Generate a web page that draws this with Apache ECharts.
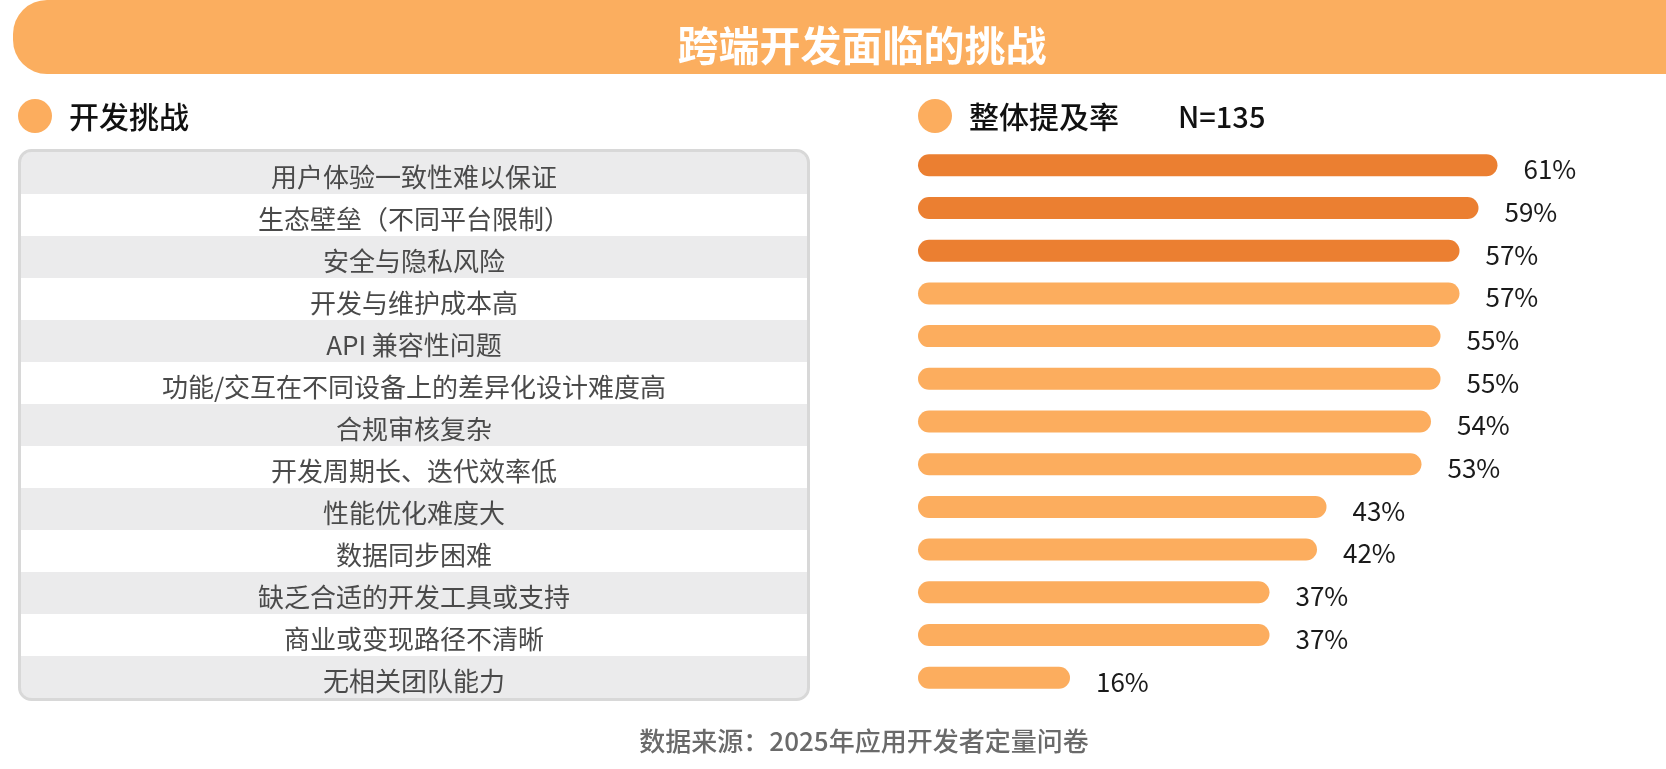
<!DOCTYPE html>
<html>
<head>
<meta charset="utf-8">
<title>跨端开发面临的挑战</title>
<script src="https://cdn.jsdelivr.net/npm/echarts@6/dist/echarts.min.js"></script>
<style>
  html, body { margin: 0; padding: 0; background: #fff; }
  #main { width: 1666px; height: 769px; }
</style>
</head>
<body>
<div id="main"></div>
<script>
const challenges = [
    '用户体验一致性难以保证',
    '生态壁垒（不同平台限制）',
    '安全与隐私风险',
    '开发与维护成本高',
    'API 兼容性问题',
    '功能/交互在不同设备上的差异化设计难度高',
    '合规审核复杂',
    '开发周期长、迭代效率低',
    '性能优化难度大',
    '数据同步困难',
    '缺乏合适的开发工具或支持',
    '商业或变现路径不清晰',
    '无相关团队能力'
]
const rates = [61, 59, 57, 57, 55, 55, 54, 53, 43, 42, 37, 37, 16]
const topN = 3  // 前三项用深色
const sampleSize = 135

const FONT = '"Noto Sans CJK SC", "Noto Sans", sans-serif'
const LIGHT = '#FCAD5E'
const DARK = '#EB7F31'

// 左侧表格
const tableTop = 152
const rowH = 42
const tableLeft = 21
const tableW = 786
const tableEls = []
challenges.forEach((name, i) => {
    let r = 0
    if (i === 0) r = [10, 10, 0, 0]
    if (i === challenges.length - 1) r = [0, 0, 10, 10]
    tableEls.push({
        type: 'rect',
        shape: { x: tableLeft, y: tableTop + i * rowH, width: tableW, height: rowH, r: r },
        style: { fill: i % 2 === 0 ? '#EBEBEC' : '#FFFFFF' }
    })
    tableEls.push({
        type: 'text',
        x: tableLeft + tableW / 2,
        y: tableTop + i * rowH + rowH / 2 + 4,
        style: {
            text: name, fontSize: 26, fontFamily: FONT, fill: '#4A4A4A',
            align: 'center', verticalAlign: 'middle'
        }
    })
})
tableEls.push({
    type: 'rect',
    shape: { x: 19.5, y: 150.5, width: 789, height: challenges.length * rowH + 3, r: 12 },
    style: { fill: 'none', stroke: '#D8D8D8', lineWidth: 3 }
})

const chart = echarts.init(document.getElementById('main'))
const option = {
    backgroundColor: '#fff',
    animation: false,
    grid: { left: 918, right: 83, top: 144, height: 555 },
    xAxis: {
        type: 'value', min: 0, max: 70,
        show: false
    },
    yAxis: {
        type: 'category', data: challenges, inverse: true,
        show: false
    },
    series: [{
        type: 'bar',
        barWidth: 22,
        data: rates.map((v, i) => ({
            value: v,
            itemStyle: { color: i < topN ? DARK : LIGHT }
        })),
        itemStyle: { borderRadius: 11 },
        label: {
            show: true, position: 'right', distance: 26, offset: [0, 4],
            formatter: '{c}%', fontSize: 26, fontFamily: FONT, color: '#1A1A1A'
        }
    }],
    graphic: [
        // 顶部横幅
        {
            type: 'rect',
            shape: { x: 13, y: 0, width: 1700, height: 74, r: [34, 0, 0, 34] },
            style: { fill: '#FBAE5F' }
        },
        {
            type: 'text', x: 862, y: 45,
            style: {
                text: '跨端开发面临的挑战', fontSize: 41, fontWeight: 'bold', fontFamily: FONT,
                fill: '#fff', align: 'center', verticalAlign: 'middle'
            }
        },
        // 小标题
        { type: 'circle', shape: { cx: 35, cy: 116, r: 17 }, style: { fill: LIGHT } },
        {
            type: 'text', x: 69, y: 117,
            style: { text: '开发挑战', fontSize: 30, fontWeight: 500, fontFamily: FONT, fill: '#111', verticalAlign: 'middle' }
        },
        { type: 'circle', shape: { cx: 935, cy: 116, r: 17 }, style: { fill: LIGHT } },
        {
            type: 'text', x: 969, y: 117,
            style: { text: '整体提及率', fontSize: 30, fontWeight: 500, fontFamily: FONT, fill: '#111', verticalAlign: 'middle' }
        },
        {
            type: 'text', x: 1178, y: 117,
            style: { text: 'N=' + sampleSize, fontSize: 29, fontWeight: 500, fontFamily: FONT, fill: '#111', verticalAlign: 'middle' }
        },
        // 表格
        { type: 'group', children: tableEls },
        // 数据来源
        {
            type: 'text', x: 864, y: 741,
            style: {
                text: '数据来源：2025年应用开发者定量问卷', fontSize: 26, fontWeight: 500, fontFamily: FONT,
                fill: '#6A6A6A', align: 'center', verticalAlign: 'middle'
            }
        }
    ]
}
chart.setOption(option)
</script>
</body>
</html>
